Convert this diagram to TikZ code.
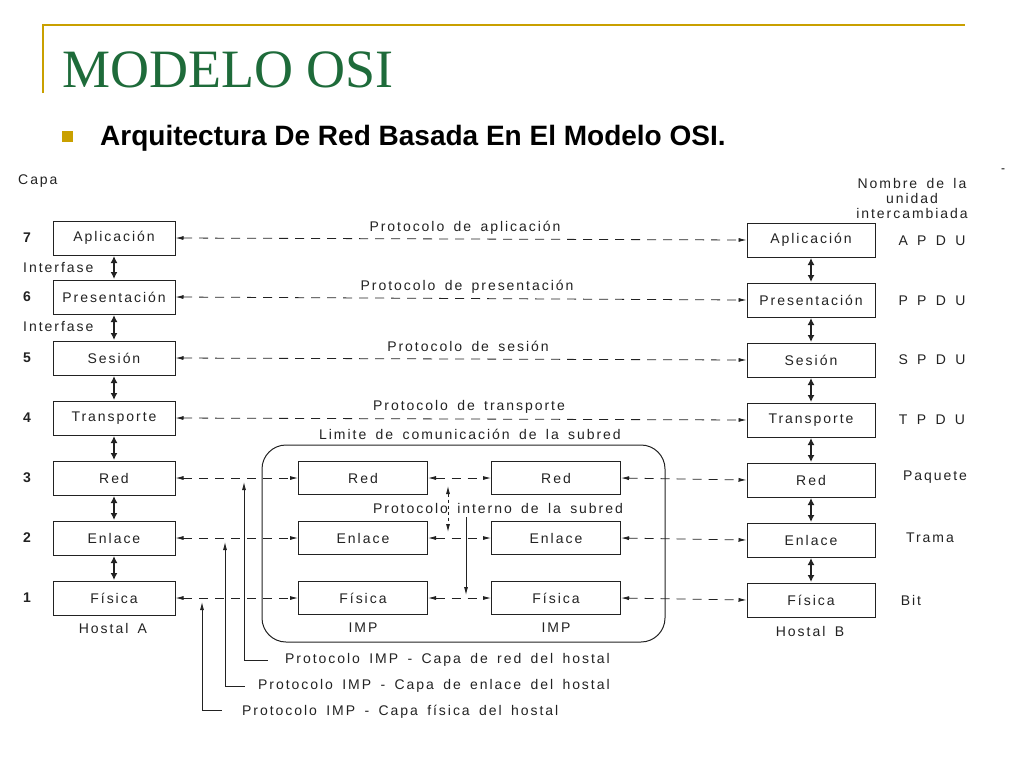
\documentclass[tikz,border=0pt]{standalone}
\usepackage{fontspec}
\setmainfont{Liberation Serif}
\newfontfamily\diag[LetterSpace=14,WordSpace=1.6]{Liberation Sans}
\newfontfamily\headsans{Liberation Sans}
\usetikzlibrary{arrows.meta,calc}
\definecolor{titlegreen}{HTML}{1E6B3A}
\definecolor{gold}{HTML}{C9A000}
\definecolor{ink}{HTML}{222222}
\tikzset{
  lay/.style={draw=ink, line width=1pt, minimum width=122pt, minimum height=34pt, inner sep=0pt, font=\diag\fontsize{14}{14}\selectfont, text=ink},
  layb/.style={lay, minimum width=128pt},
  imp/.style={lay, minimum width=129pt, minimum height=33pt},
  lbl/.style={font=\diag\fontsize{14}{14}\selectfont, text=ink, inner sep=0pt},
  num/.style={font=\headsans\bfseries\fontsize{14}{14}\selectfont, text=ink, inner sep=0pt},
  proto/.style={draw=ink, line width=0.8pt, dash pattern=on 9pt off 7pt, {Latex[length=8pt,width=4pt]}-{Latex[length=8pt,width=4pt]}},
  iface/.style={draw=ink, line width=1.8pt, shorten >=0.5pt, shorten <=0.5pt, {Latex[length=7pt,width=7pt]}-{Latex[length=7pt,width=7pt]}},
  solidarr/.style={draw=ink, line width=0.8pt, -{Latex[length=8pt,width=4pt]}},
  plain/.style={draw=ink, line width=0.8pt}
}
\begin{document}
\begin{tikzpicture}[x=1pt,y=-1pt]
\useasboundingbox (0,0) rectangle (1024,768);
% header
\draw[gold, line width=2.5pt] (43,93) -- (43,25) -- (965,25);
\node[font=\fontsize{54}{54}\selectfont, text=titlegreen, anchor=base west, inner sep=0pt] (title) at (62,87) {MODELO OSI};
\fill[gold] (62,131) rectangle (73,142);
\node[font=\headsans\bfseries\fontsize{28}{28}\selectfont, anchor=base west, inner sep=0pt] (sub) at (100,145) {Arquitectura De Red Basada En El Modelo OSI.};
\node[font=\headsans\fontsize{12}{12}\selectfont, inner sep=0pt] (dash) at (1003,171) {-};

% left labels
\node[lbl, anchor=west] (capa) at (18,181) {Capa};
\foreach \n/\y in {7/238,6/297,5/358,4/418,3/478,2/538,1/598}
  \node[num] (n\n) at (27,\y) {\n};
\node[lbl, anchor=west] (if1) at (23,267) {Interfase};
\node[lbl, anchor=west] (if2) at (23,326) {Interfase};

% host A
\node[lay] (a7) at (114,238) {Aplicación};
\node[lay] (a6) at (114,297) {Presentación};
\node[lay] (a5) at (114,358) {Sesión};
\node[lay] (a4) at (114,418) {Transporte};
\node[lay] (a3) at (114,478) {Red};
\node[lay] (a2) at (114,538) {Enlace};
\node[lay] (a1) at (114,598) {Física};
\node[lbl] (ha) at (113,628) {Hostal A};

% host B
\node[layb] (b7) at (811,240) {Aplicación};
\node[layb] (b6) at (811,300) {Presentación};
\node[layb] (b5) at (811,360) {Sesión};
\node[layb] (b4) at (811,420) {Transporte};
\node[layb] (b3) at (811,480) {Red};
\node[layb] (b2) at (811,540) {Enlace};
\node[layb] (b1) at (811,600) {Física};
\node[lbl] (hb) at (810,631) {Hostal B};

% right-hand names
\node[lbl, align=center] (nombre) at (912,198) {Nombre de la\\[1pt]unidad\\[1pt]intercambiada};
\node[lbl] (u7) at (932,241) {A P D U};
\node[lbl] (u6) at (932,301) {P P D U};
\node[lbl] (u5) at (932,360) {S P D U};
\node[lbl] (u4) at (932,420) {T P D U};
\node[lbl] (u3) at (935,477) {Paquete};
\node[lbl] (u2) at (930,538) {Trama};
\node[lbl] (u1) at (911,600) {Bit};

% interfaces
\foreach \u/\l in {7/6,6/5,5/4,4/3,3/2,2/1}{
  \draw[iface] (a\u) -- (a\l);
  \draw[iface] (b\u) -- (b\l);
}

% peer protocols
\draw[proto] (a7.east) -- (b7.west);
\draw[proto] (a6.east) -- (b6.west);
\draw[proto] (a5.east) -- (b5.west);
\draw[proto] (a4.east) -- (b4.west);
\node[lbl] (p7) at (465,228) {Protocolo de aplicación};
\node[lbl] (p6) at (467,287) {Protocolo de presentación};
\node[lbl] (p5) at (468,346) {Protocolo de sesión};
\node[lbl] (p4) at (469,407) {Protocolo de transporte};

% subnet
\node[draw=ink, line width=1pt, rounded corners=24pt, minimum width=403pt, minimum height=197pt, inner sep=0pt] (subnet) at (463.5,543.5) {};
\node[lbl] (lim) at (470,434) {Limite de comunicación de la subred};
\node[imp] (l3) at (363,478) {Red};
\node[imp] (l2) at (363,538) {Enlace};
\node[imp] (l1) at (363,598) {Física};
\node[imp] (r3) at (556,478) {Red};
\node[imp] (r2) at (556,538) {Enlace};
\node[imp] (r1) at (556,598) {Física};
\node[lbl] (impl) at (363,628) {IMP};
\node[lbl] (impr) at (556,628) {IMP};
\node[lbl] (pint) at (498,508) {Protocolo interno de la subred};

\foreach \k in {3,2,1}{
  \draw[proto] (a\k.east) -- (l\k.west);
  \draw[proto] (l\k.east) -- (r\k.west);
  \draw[proto] (r\k.east) -- (b\k.west);
}
\coordinate (v1) at (448,486);
\coordinate (v2) at (448,532);
\draw[proto, dash pattern=on 3pt off 3pt] (v1) -- (v2);
\coordinate (s1) at (466,517);
\coordinate (s2) at (466,595);
\draw[solidarr] (s1) -- (s2);

% IMP - host protocols
\coordinate (c1) at (244,660);
\coordinate (e1) at (244,482);
\coordinate (c2) at (225,686);
\coordinate (e2) at (225,542);
\coordinate (c3) at (202,710);
\coordinate (e3) at (202,602);
\draw[solidarr] (c1) -- (e1);
\draw[solidarr] (c2) -- (e2);
\draw[solidarr] (c3) -- (e3);
\node[lbl, anchor=west] (t1) at (285,660) {Protocolo IMP - Capa de red del hostal};
\node[lbl, anchor=west] (t2) at (258,686) {Protocolo IMP - Capa de enlace del hostal};
\node[lbl, anchor=west] (t3) at (242,712) {Protocolo IMP - Capa física del hostal};
\draw[plain] (c1) -- ++(24,0);
\draw[plain] (c2) -- ++(20,0);
\draw[plain] (c3) -- ++(20,0);
\end{tikzpicture}
\end{document}
